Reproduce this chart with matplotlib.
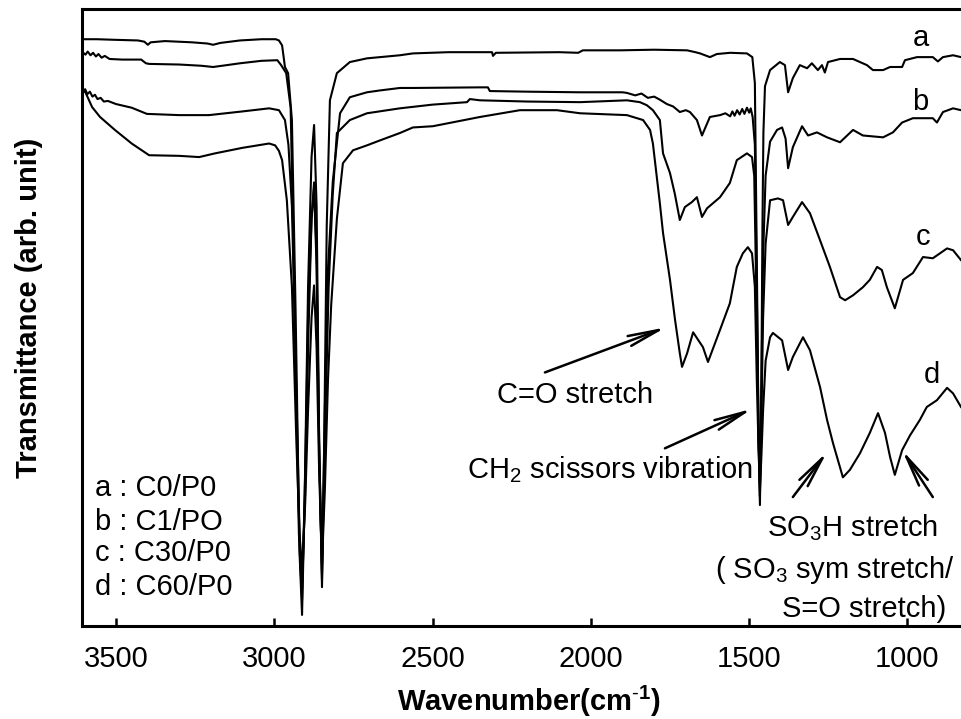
import numpy as np
import matplotlib
matplotlib.use("Agg")
import matplotlib.pyplot as plt

plt.rcParams["font.family"] = "Liberation Sans"
plt.rcParams["mathtext.fontset"] = "custom"
plt.rcParams["mathtext.rm"] = "Liberation Sans"
plt.rcParams["mathtext.it"] = "Liberation Sans:italic"
plt.rcParams["mathtext.bf"] = "Liberation Sans:bold"

# --------------------------------------------------
# FTIR spectra: [wavenumber (cm-1), transmittance (arb. unit)]
# --------------------------------------------------
spec_a = np.array([
    [3605, 95.1], [3560, 95.1], [3500, 95.0], [3430, 94.9], [3410, 94.7],
    [3399, 94.2], [3390, 94.6], [3345, 94.8], [3260, 94.6], [3210, 94.4],
    [3193, 94.2], [3170, 94.5], [3108, 94.9], [3040, 95.1], [2995, 95.1],
    [2985, 94.9], [2975, 94.1], [2966, 90.6], [2956, 89.6], [2944, 82.0],
    [2932, 50.0], [2920, 12.0], [2912, 1.8], [2904, 20.0], [2893, 55.0],
    [2882, 76.0], [2874, 81.2], [2866, 68.0], [2858, 30.0], [2849, 6.3],
    [2842, 30.0], [2834, 65.0], [2824, 85.2], [2802, 89.6], [2761, 91.4],
    [2707, 92.0], [2603, 92.5], [2562, 92.8], [2450, 93.0], [2350, 93.0],
    [2312, 93.0], [2309, 92.4], [2300, 92.9], [2100, 93.0], [2040, 92.9],
    [2025, 93.3], [1908, 93.3], [1800, 93.4], [1696, 93.3], [1670, 93.0],
    [1655, 92.8], [1624, 92.2], [1602, 92.7], [1560, 92.9], [1507, 92.8],
    [1490, 92.2], [1482, 88.0], [1476, 60.0], [1470, 30.0], [1466, 19.6],
    [1462, 35.0], [1458, 65.0], [1455, 80.0], [1450, 87.5], [1434, 90.1],
    [1403, 91.4], [1387, 90.9], [1377, 86.5], [1362, 88.8], [1340, 90.9],
    [1317, 90.4], [1302, 91.2], [1283, 90.1], [1270, 90.9], [1261, 89.7],
    [1251, 91.4], [1213, 91.9], [1172, 91.9], [1128, 90.9], [1109, 90.1],
    [1077, 90.1], [1055, 90.6], [1017, 90.6], [1008, 91.7], [970, 92.2],
    [920, 92.2], [904, 91.5], [888, 92.2], [856, 92.5], [831, 92.2],
])

spec_b = np.array([
    [3605, 93.0], [3596, 92.6], [3589, 93.1], [3580, 92.5], [3572, 92.9],
    [3563, 92.3], [3555, 92.7], [3545, 92.1], [3535, 92.4], [3520, 91.9],
    [3480, 91.8], [3420, 91.8], [3405, 91.2], [3395, 91.1], [3300, 91.0],
    [3230, 90.8], [3193, 90.6], [3150, 90.9], [3108, 91.2], [3040, 91.6],
    [2990, 91.7], [2978, 90.9], [2962, 89.6], [2948, 84.0], [2935, 50.0],
    [2922, 15.0], [2912, 4.2], [2902, 25.0], [2893, 50.0], [2882, 66.0],
    [2874, 71.9], [2866, 60.0], [2858, 30.0], [2849, 7.5], [2840, 35.0],
    [2830, 58.0], [2815, 72.0], [2792, 83.1], [2761, 85.7], [2707, 86.5],
    [2666, 86.8], [2603, 87.2], [2562, 87.2], [2350, 87.3], [2325, 87.3],
    [2319, 86.7], [2200, 86.6], [2034, 86.5], [1900, 86.5], [1886, 86.4],
    [1860, 86.0], [1840, 86.3], [1820, 85.6], [1800, 85.8], [1782, 85.3],
    [1760, 84.6], [1740, 84.2], [1719, 83.3], [1700, 83.6], [1687, 83.3],
    [1665, 82.0], [1649, 79.5], [1624, 82.5], [1592, 82.8], [1575, 83.1],
    [1560, 82.6], [1553, 83.4], [1546, 82.7], [1538, 83.6], [1530, 82.9],
    [1522, 83.8], [1515, 83.0], [1507, 84.0], [1500, 83.2], [1495, 83.9],
    [1489, 82.5], [1482, 78.0], [1476, 55.0], [1470, 30.0], [1466, 21.0],
    [1461, 40.0], [1456, 60.0], [1448, 73.0], [1434, 78.5], [1412, 80.4],
    [1396, 80.8], [1385, 79.0], [1377, 74.2], [1362, 77.6], [1333, 81.0],
    [1314, 79.5], [1286, 80.0], [1254, 79.2], [1213, 78.4], [1172, 80.4],
    [1141, 79.5], [1077, 79.2], [1046, 80.0], [1017, 81.6], [983, 82.3],
    [920, 82.3], [907, 81.6], [888, 83.3], [856, 83.9], [831, 83.6],
])

spec_c = np.array([
    [3605, 86.5], [3597, 87.0], [3590, 86.2], [3582, 86.6], [3574, 85.8],
    [3566, 86.1], [3558, 85.4], [3548, 85.6], [3538, 85.0], [3525, 85.1],
    [3500, 84.6], [3450, 84.0], [3402, 83.0], [3300, 82.8], [3206, 82.8],
    [3100, 83.4], [3016, 83.9], [2985, 83.6], [2966, 82.0], [2955, 78.0],
    [2944, 68.0], [2930, 38.0], [2920, 15.0], [2912, 6.0], [2902, 22.0],
    [2893, 45.0], [2882, 66.0], [2874, 71.1], [2866, 58.0], [2858, 28.0],
    [2849, 8.5], [2840, 30.0], [2828, 55.0], [2815, 70.0], [2802, 79.9],
    [2761, 82.0], [2707, 83.1], [2603, 83.9], [2500, 84.5], [2391, 84.9],
    [2382, 85.4], [2350, 85.2], [2200, 85.0], [2034, 84.9], [1886, 85.2],
    [1845, 84.9], [1823, 84.4], [1804, 83.6], [1782, 82.0], [1772, 76.6],
    [1750, 73.4], [1735, 70.1], [1719, 65.8], [1703, 67.9], [1681, 68.7],
    [1665, 69.5], [1649, 66.3], [1633, 67.7], [1592, 69.5], [1561, 71.8],
    [1539, 75.5], [1507, 76.6], [1491, 76.0], [1484, 73.0], [1476, 50.0],
    [1470, 30.0], [1466, 23.0], [1461, 35.0], [1456, 50.0], [1448, 62.0],
    [1434, 69.0], [1409, 69.3], [1393, 69.0], [1377, 65.0], [1362, 66.3],
    [1333, 68.7], [1308, 66.9], [1276, 62.5], [1245, 58.2], [1213, 53.3],
    [1197, 52.8], [1172, 53.6], [1141, 54.9], [1119, 56.1], [1096, 58.2],
    [1081, 57.7], [1065, 54.9], [1040, 51.5], [1014, 56.1], [983, 57.2],
    [951, 59.8], [920, 59.6], [875, 61.2], [856, 60.9], [831, 59.3],
])

spec_d = np.array([
    [3605, 86.5], [3597, 86.6], [3575, 84.1], [3550, 82.5], [3503, 80.4],
    [3450, 78.2], [3395, 76.3], [3300, 76.2], [3237, 76.0], [3187, 76.6],
    [3100, 77.5], [3016, 78.2], [2997, 77.9], [2985, 77.0], [2975, 75.5],
    [2960, 69.0], [2944, 55.0], [2930, 30.0], [2920, 15.0], [2912, 9.0],
    [2902, 20.0], [2893, 35.0], [2882, 50.0], [2874, 55.2], [2866, 45.0],
    [2858, 25.0], [2849, 10.0], [2840, 22.0], [2830, 40.0], [2820, 52.0],
    [2802, 66.0], [2783, 75.0], [2751, 77.1], [2707, 77.9], [2666, 78.7],
    [2603, 79.9], [2562, 80.8], [2499, 81.0], [2350, 82.5], [2224, 83.6],
    [2107, 83.6], [2034, 83.1], [1886, 82.8], [1835, 82.0], [1813, 80.4],
    [1804, 78.2], [1782, 68.5], [1772, 63.7], [1750, 56.1], [1734, 49.6],
    [1719, 44.2], [1712, 42.0], [1696, 44.2], [1677, 47.6], [1646, 45.2],
    [1630, 42.8], [1592, 48.0], [1561, 52.3], [1539, 58.2], [1520, 60.4],
    [1504, 61.4], [1491, 60.4], [1482, 55.0], [1476, 40.0], [1470, 28.0],
    [1466, 22.0], [1461, 28.0], [1456, 35.0], [1448, 43.0], [1434, 46.8],
    [1425, 47.5], [1396, 46.3], [1377, 41.5], [1362, 43.6], [1330, 46.8],
    [1308, 44.7], [1276, 38.7], [1254, 33.4], [1235, 29.6], [1204, 24.1],
    [1182, 25.3], [1150, 28.0], [1119, 31.3], [1093, 34.5], [1071, 31.3],
    [1055, 27.4], [1040, 24.5], [1017, 28.5], [992, 30.9], [961, 33.4],
    [939, 35.5], [907, 36.6], [875, 38.6], [856, 37.7], [831, 35.5],
])

curve_names = ["a", "b", "c", "d"]
sample_names = ["C0/P0", "C1/PO", "C30/P0", "C60/P0"]
x_ticks = [3500, 3000, 2500, 2000, 1500, 1000]

# --------------------------------------------------
# Plot
# --------------------------------------------------
fig = plt.figure(figsize=(9.61, 7.19), dpi=100)
ax = fig.add_axes([0.0853, 0.1293, 0.9147, 0.8582])

for spec in [spec_a, spec_b, spec_c, spec_d]:
    ax.plot(spec[:, 0], spec[:, 1], color="black", lw=1.5)

ax.set_xlim(3607, 831)
ax.set_ylim(0, 100)
ax.set_xticks(x_ticks)
ax.set_yticks([])
ax.tick_params(axis="x", direction="in", length=6, width=1.8,
               labelsize=21, pad=14)
for side in ["left", "top", "bottom"]:
    ax.spines[side].set_linewidth(2.2)
ax.spines["right"].set_visible(False)

ax.set_xlabel(r"Wavenumber(cm$^{\mathbf{\text{-}1}}$)", fontsize=21, fontweight="bold")
ax.set_ylabel("Transmittance (arb. unit)", fontsize=21, fontweight="bold")
ax.xaxis.set_label_coords(0.5085, -0.094)
ax.yaxis.set_label_coords(-0.0444, 0.515)

# curve letters at the right end
label_pos = [(957, 95.3), (961, 84.9), (951, 63.0), (923, 40.7)]
for name, (x, y) in zip(curve_names, label_pos):
    ax.text(x, y, name, fontsize=21, ha="center", va="center")

# sample key in the lower left
key_y = [22.4, 16.8, 11.8, 6.3]
for name, sample, y in zip(curve_names, sample_names, key_y):
    ax.text(3566, y, f"{name} : {sample}", fontsize=21, ha="left", va="center")

# --------------------------------------------------
# Band assignments
# --------------------------------------------------
arrow = dict(arrowstyle="->,head_length=0.9,head_width=0.15", lw=1.8,
             color="black", mutation_scale=25, shrinkA=0, shrinkB=0)

ax.annotate("", xy=(1763, 48.4), xytext=(2145, 41.1), arrowprops=arrow)
ax.text(2050, 37.4, "C=O stretch", fontsize=21, ha="center", va="center")

ax.annotate("", xy=(1491, 35.2), xytext=(1766, 28.8), arrowprops=arrow)
ax.text(1489, 25.3, "CH$_2$ scissors vibration", fontsize=21,
        ha="right", va="center")

ax.annotate("", xy=(1254, 28.2), xytext=(1362, 20.9), arrowprops=arrow)
ax.annotate("", xy=(1017, 28.5), xytext=(920, 20.9), arrowprops=arrow)
ax.text(1175, 16.0, "SO$_3$H stretch", fontsize=21, ha="center", va="center")
ax.text(1229, 9.1, "( SO$_3$ sym stretch/", fontsize=21, ha="center", va="center")
ax.text(1137, 2.8, "S=O stretch)", fontsize=21, ha="center", va="center")

fig.savefig("out.png", dpi=100)
